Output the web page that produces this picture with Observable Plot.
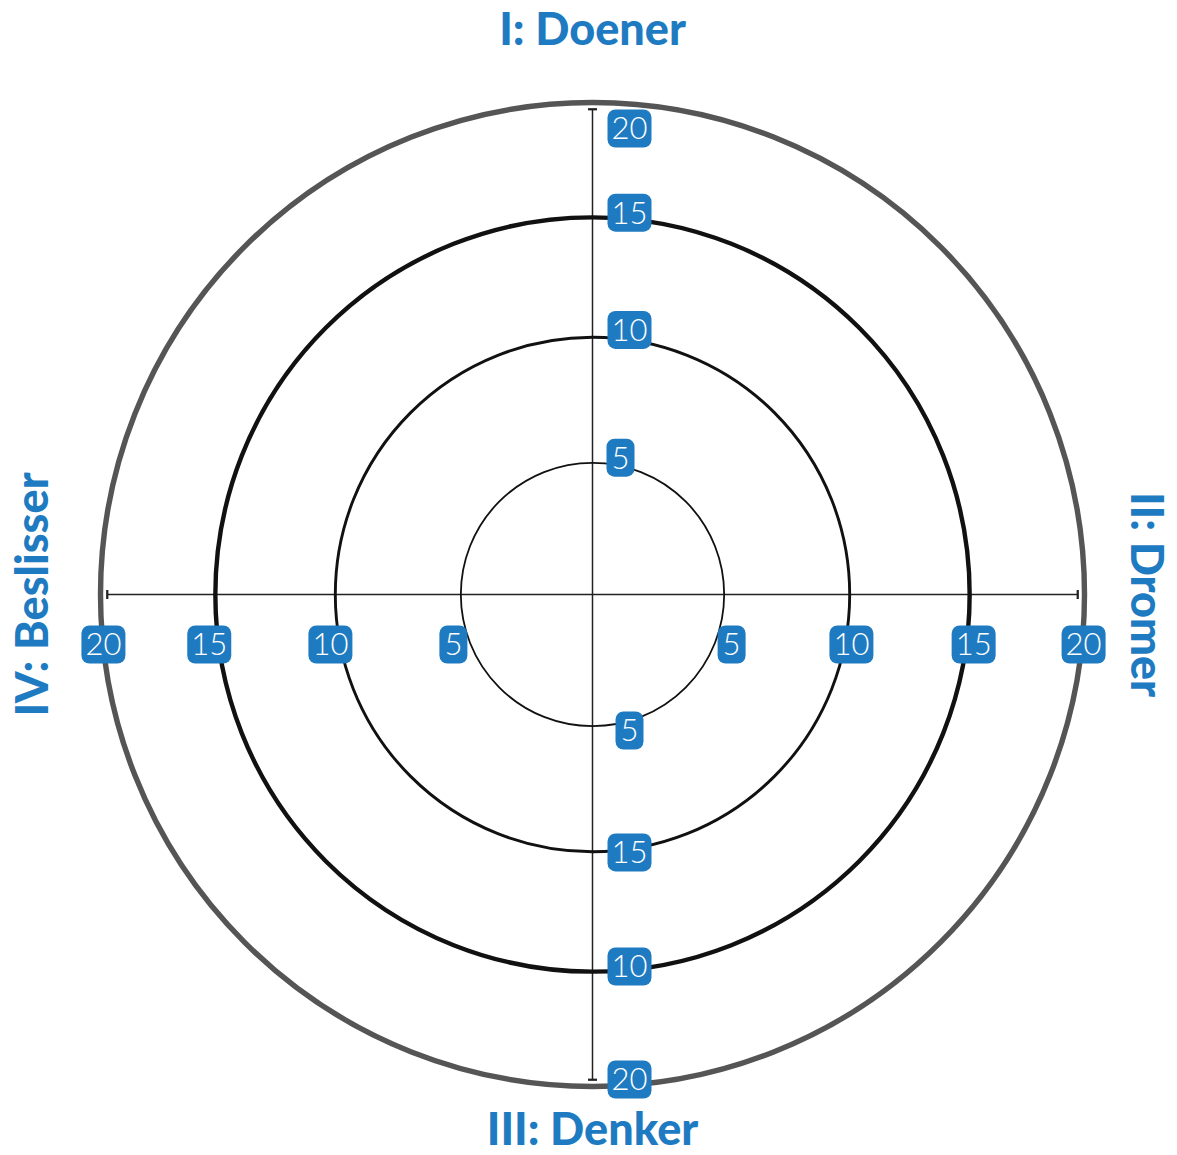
<!DOCTYPE html>
<html>
<head>
<meta charset="utf-8">
<script src="https://cdn.jsdelivr.net/npm/d3@7"></script>
<script src="https://cdn.jsdelivr.net/npm/@observablehq/plot@0.6"></script>
<style>
  html, body { margin: 0; padding: 0; background: #fff; }
  #chart svg { display: block; }
</style>
</head>
<body>
<div id="chart"></div>
<script>
// ---- data ----
const ringValues = [5, 10, 15, 20];
const axisExtent = [-19.7, 19.7];
const quadrantTitles = ["I: Doener", "II: Dromer", "III: Denker", "IV: Beslisser"];

const topLabelPos = [5.2, 10.3, 15.2, 18.85];
const topLabelText = ["5", "10", "15", "20"];
const bottomLabelPos = [-5.17, -10.03, -14.78, -19.69];
const bottomLabelText = ["5", "15", "10", "20"];
const leftLabelPos = [-19.87, -15.26, -10.2, -5.29];
const leftLabelText = ["20", "15", "10", "5"];
const rightLabelPos = [5.29, 10.07, 15.17, 19.96];
const rightLabelText = ["5", "10", "15", "20"];

// ---- layout ----
const W = 1177, H = 1155;
const mL = 100, mR = 93, mT = 102, mB = 69;
const R = (W - mL - mR) / 2;
const BLUE = "#1f7bc1";
const FONT = "Lato, 'Open Sans', sans-serif";

function roundedRect(w, h, r) {
  return {
    draw(ctx) {
      const x0 = -w / 2, x1 = w / 2, y0 = -h / 2, y1 = h / 2;
      ctx.moveTo(x0 + r, y0);
      ctx.lineTo(x1 - r, y0);
      ctx.arcTo(x1, y0, x1, y0 + r, r);
      ctx.lineTo(x1, y1 - r);
      ctx.arcTo(x1, y1, x1 - r, y1, r);
      ctx.lineTo(x0 + r, y1);
      ctx.arcTo(x0, y1, x0, y1 - r, r);
      ctx.lineTo(x0, y0 + r);
      ctx.arcTo(x0, y0, x0 + r, y0, r);
      ctx.closePath();
    }
  };
}
const narrowBox = roundedRect(28, 38, 8);
const wideBox = roundedRect(44, 38, 8);

const zip = (pos, text, axis) => pos.map((p, i) => ({pos: p, text: text[i], axis}));
const topLabels = zip(topLabelPos, topLabelText, "v");
const bottomLabels = zip(bottomLabelPos, bottomLabelText, "v");
const horizLabels = zip(leftLabelPos, leftLabelText, "h").concat(zip(rightLabelPos, rightLabelText, "h"));

function labelMarks(data, dx1, dx2, dy) {
  const X = d => d.axis === "h" ? d.pos : 0;
  const Y = d => d.axis === "h" ? 0 : d.pos;
  const one = data.filter(d => d.text.length === 1);
  const two = data.filter(d => d.text.length > 1);
  const txt = {fill: "white", fontSize: 31, fontFamily: FONT, fontWeight: 300};
  return [
    Plot.dot(one, {x: X, y: Y, symbol: narrowBox, r: 10, fill: BLUE, stroke: "none", dx: dx1, dy}),
    Plot.dot(two, {x: X, y: Y, symbol: wideBox, r: 10, fill: BLUE, stroke: "none", dx: dx2, dy}),
    Plot.text(one, {x: X, y: Y, text: "text", ...txt, dx: dx1, dy: dy + 1}),
    Plot.text(two, {x: X, y: Y, text: "text", ...txt, dx: dx2, dy: dy + 1})
  ];
}

const ringWidth = {5: 1.8, 10: 2.9, 15: 4.4, 20: 5.4};
const ringColor = {5: "#111", 10: "#111", 15: "#111", 20: "#555"};
const titleStyle = {fontSize: 45, fontWeight: 900, fill: BLUE, lineAnchor: "middle", textAnchor: "middle"};

const chart = Plot.plot({
  width: W,
  height: H,
  marginLeft: mL, marginRight: mR, marginTop: mT, marginBottom: mB,
  style: {fontFamily: FONT, background: "white"},
  x: {type: "symlog", constant: 100, domain: [-20, 20], axis: null},
  y: {type: "symlog", constant: 100, domain: [-20, 20], axis: null},
  r: {type: "symlog", constant: 100, domain: [0, 20], range: [0, R]},
  marks: [
    Plot.link([{}], {x1: axisExtent[0], x2: axisExtent[1], y1: 0, y2: 0, stroke: "#222", strokeWidth: 1.5, markerStart: "tick", markerEnd: "tick"}),
    Plot.link([{}], {x1: 0, x2: 0, y1: axisExtent[0], y2: axisExtent[1], stroke: "#222", strokeWidth: 1.5, markerStart: "tick", markerEnd: "tick"}),
    Plot.dot(ringValues, {x: () => 0, y: () => 0, r: d => d, fill: "none",
      stroke: d => ringColor[d], strokeWidth: d => ringWidth[d]}),
    ...labelMarks(horizLabels, 0, 0, 50),
    ...labelMarks(topLabels, 28, 37, 0),
    ...labelMarks(bottomLabels, 37, 37, 0),
    Plot.text([quadrantTitles[0]], {frameAnchor: "top", dy: -72, ...titleStyle}),
    Plot.text([quadrantTitles[2]], {frameAnchor: "bottom", dy: 44, ...titleStyle}),
    Plot.text([quadrantTitles[3]], {frameAnchor: "left", dx: -67, rotate: -90, ...titleStyle}),
    Plot.text([quadrantTitles[1]], {frameAnchor: "right", dx: 61, rotate: 90, ...titleStyle})
  ]
});
document.getElementById("chart").appendChild(chart);
</script>
</body>
</html>
